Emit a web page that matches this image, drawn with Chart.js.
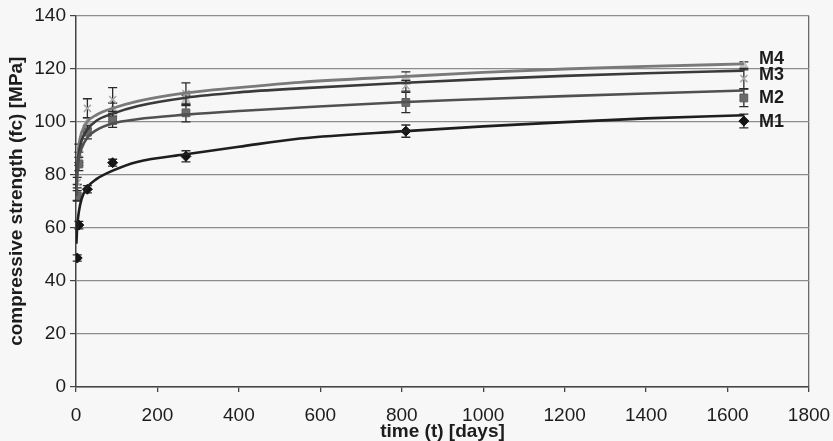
<!DOCTYPE html>
<html>
<head>
<meta charset="utf-8">
<script src="https://cdn.jsdelivr.net/npm/chart.js@4.4.1/dist/chart.umd.min.js"></script>
<style>
  html, body { margin: 0; padding: 0; background: #f7f7f7; }
  #wrap { position: relative; width: 833px; height: 441px; }
</style>
</head>
<body>
<div id="wrap"><canvas id="c" width="833" height="441"></canvas></div>
<script>
// Concrete mixes
const mixes = ['M1', 'M2', 'M3', 'M4'];

// Test ages (days) and mean compressive strength with scatter (MPa)
const testDays = [3, 7, 28, 90, 270, 810, 1640];
const meanM1 = [48.6, 61.0, 74.5, 84.5, 86.9, 96.4, 100.2];
const errM1  = [1.2, 1.4, 1.4, 1.3, 2.1, 2.3, 2.6];
const meanM2 = [72.0, 84.0, 96.0, 100.4, 103.3, 107.2, 108.9];
const errM2  = [2.0, 2.5, 2.5, 2.6, 3.4, 3.8, 3.3];
const meanM3 = [77.0, 88.0, 105.0, 108.3, 110.5, 113.5, 116.2];
const errM3  = [2.0, 3.5, 3.6, 4.5, 4.1, 2.0, 3.8];
const meanM4 = [73.3, 86.0, 99.5, 104.5, 108.0, 116.5, 121.0];
const errM4  = [3.0, 2.5, 2.0, 2.5, 2.0, 2.2, 1.5];

// Fitted strength-development curves
const fitDays = [1, 3, 7, 14, 28, 50, 90, 150, 270, 400, 550, 810, 1000, 1200, 1400, 1640];
const fitM1 = [54.0, 60.5, 66.0, 71.0, 75.3, 78.3, 81.5, 84.8, 87.7, 90.5, 93.6, 96.4, 98.2, 99.8, 101.2, 102.4];
const fitM2 = [72.0, 80.0, 86.0, 90.0, 94.0, 96.8, 99.3, 100.9, 102.6, 104.0, 105.3, 107.4, 108.5, 109.6, 110.6, 111.7];
const fitM3 = [73.0, 82.0, 88.0, 93.0, 97.0, 100.3, 103.0, 105.8, 109.0, 111.0, 112.5, 114.6, 116.0, 117.2, 118.2, 119.2];
const fitM4 = [74.0, 84.0, 91.0, 96.0, 100.0, 102.5, 105.0, 107.6, 110.8, 112.8, 114.8, 117.0, 118.5, 119.8, 120.8, 121.7];

// Axis ticks
const xTicks = [0, 200, 400, 600, 800, 1000, 1200, 1400, 1600, 1800];
const yTicks = [0, 20, 40, 60, 80, 100, 120, 140];

const FONT = "'Liberation Sans', Arial, Helvetica, sans-serif";
const INK = '#1c1c1c';

const pts = (xs, ys) => xs.map((x, i) => ({ x: x, y: ys[i] }));

const curveStyle = {
  M1: { color: '#1e1e1e', width: 2.6 },
  M2: { color: '#505050', width: 2.6 },
  M3: { color: '#3a3a3a', width: 2.6 },
  M4: { color: '#7a7a7a', width: 2.8 }
};
const markerStyle = {
  M1: { style: 'rectRot', radius: 5, fill: '#141414', border: '#141414', bw: 1 },
  M2: { style: 'rect', radius: 5.5, fill: '#6a6a6a', border: '#5a5a5a', bw: 1 },
  M3: { style: 'crossRot', radius: 5, fill: '#a8a8a8', border: '#a8a8a8', bw: 1.6 },
  M4: { style: 'triangle', radius: 5, fill: '#c4c4c4', border: '#b8b8b8', bw: 1 }
};

const fits = { M1: fitM1, M2: fitM2, M3: fitM3, M4: fitM4 };
const means = { M1: meanM1, M2: meanM2, M3: meanM3, M4: meanM4 };
const errs = { M1: errM1, M2: errM2, M3: errM3, M4: errM4 };

const datasets = [];
// measured points with error bars
mixes.forEach(m => {
  const s = markerStyle[m];
  datasets.push({
    label: m + ' data',
    data: pts(testDays, means[m]),
    errors: errs[m],
    showLine: false,
    pointStyle: s.style,
    pointRadius: s.radius,
    pointBackgroundColor: s.fill,
    pointBorderColor: s.border,
    pointBorderWidth: s.bw,
    order: 2
  });
});
// trend curves
mixes.forEach(m => {
  const s = curveStyle[m];
  datasets.push({
    label: m,
    data: pts(fitDays, fits[m]),
    isCurve: true,
    showLine: true,
    borderColor: s.color,
    borderWidth: s.width,
    pointRadius: 0,
    cubicInterpolationMode: 'monotone',
    fill: false,
    order: 1
  });
});

// vertical scatter bars drawn beneath each marker set
const errorBars = {
  id: 'errorBars',
  beforeDatasetDraw(chart, args) {
    const ds = chart.data.datasets[args.index];
    if (!ds.errors) return;
    const yScale = chart.scales.y;
    const ctx = chart.ctx;
    ctx.save();
    ctx.strokeStyle = '#2a2a2a';
    ctx.lineWidth = 1.3;
    args.meta.data.forEach((el, i) => {
      const v = ds.data[i].y, e = ds.errors[i];
      const yt = yScale.getPixelForValue(v + e);
      const yb = yScale.getPixelForValue(v - e);
      const x = el.x, cap = 4.5;
      ctx.beginPath();
      ctx.moveTo(x, yt); ctx.lineTo(x, yb);
      ctx.moveTo(x - cap, yt); ctx.lineTo(x + cap, yt);
      ctx.moveTo(x - cap, yb); ctx.lineTo(x + cap, yb);
      ctx.stroke();
    });
    ctx.restore();
  }
};

// mix names at the end of each curve
const curveLabels = {
  id: 'curveLabels',
  afterDatasetsDraw(chart, args, opts) {
    const ctx = chart.ctx;
    ctx.save();
    ctx.font = 'bold 18px ' + FONT;
    ctx.fillStyle = INK;
    ctx.textAlign = 'left';
    ctx.textBaseline = 'middle';
    chart.data.datasets.forEach((ds, i) => {
      if (!ds.isCurve) return;
      const meta = chart.getDatasetMeta(i);
      const last = meta.data[meta.data.length - 1];
      ctx.fillText(ds.label, opts.x, last.y + (opts.dy[ds.label] || 0));
    });
    ctx.restore();
  }
};

new Chart(document.getElementById('c'), {
  type: 'scatter',
  data: { datasets: datasets },
  plugins: [errorBars, curveLabels],
  options: {
    responsive: false,
    animation: false,
    layout: { padding: { top: 14, right: 24, left: 0, bottom: 0 } },
    plugins: {
      legend: { display: false },
      tooltip: { enabled: false },
      curveLabels: { x: 759, dy: { M1: 7, M2: 8, M3: 4, M4: -5 } }
    },
    scales: {
      x: {
        type: 'linear',
        min: 0, max: 1800,
        afterBuildTicks: s => { s.ticks = xTicks.map(v => ({ value: v })); },
        // fixed axis band; end labels may overhang into the outer padding
        afterFit: s => { s.height = 54; s.paddingLeft = 0; s.paddingRight = 0; },
        border: { display: true, color: '#444', width: 1.5 },
        grid: {
          display: true,
          drawOnChartArea: true,
          color: c => (c.tick && c.tick.value === 1800) ? '#6a6a6a' : 'rgba(0,0,0,0)',
          tickColor: '#444',
          tickLength: 5,
          lineWidth: 1.3
        },
        ticks: {
          color: INK,
          font: { family: FONT, size: 19 },
          padding: 12,
          maxRotation: 0,
          autoSkip: false,
          callback: v => String(v)
        },
        title: {
          display: true,
          text: 'time (t) [days]',
          color: INK,
          font: { family: FONT, size: 19, weight: 'bold', lineHeight: 1 },
          padding: { top: 0, bottom: 0 }
        }
      },
      y: {
        type: 'linear',
        min: 0, max: 140,
        afterBuildTicks: s => { s.ticks = yTicks.map(v => ({ value: v })); },
        afterFit: s => { s.width = 76; },
        border: { display: true, color: '#444', width: 1.5 },
        grid: {
          color: '#8c8c8c',
          tickColor: '#444',
          tickLength: 6,
          lineWidth: 1.2
        },
        ticks: {
          color: INK,
          font: { family: FONT, size: 19 },
          padding: 4,
          callback: v => String(v)
        },
        title: {
          display: true,
          text: 'compressive strength (fc) [MPa]',
          color: INK,
          font: { family: FONT, size: 19, weight: 'bold', lineHeight: 1.2 },
          padding: { top: 5, bottom: 0 }
        }
      }
    }
  }
});
</script>
</body>
</html>
